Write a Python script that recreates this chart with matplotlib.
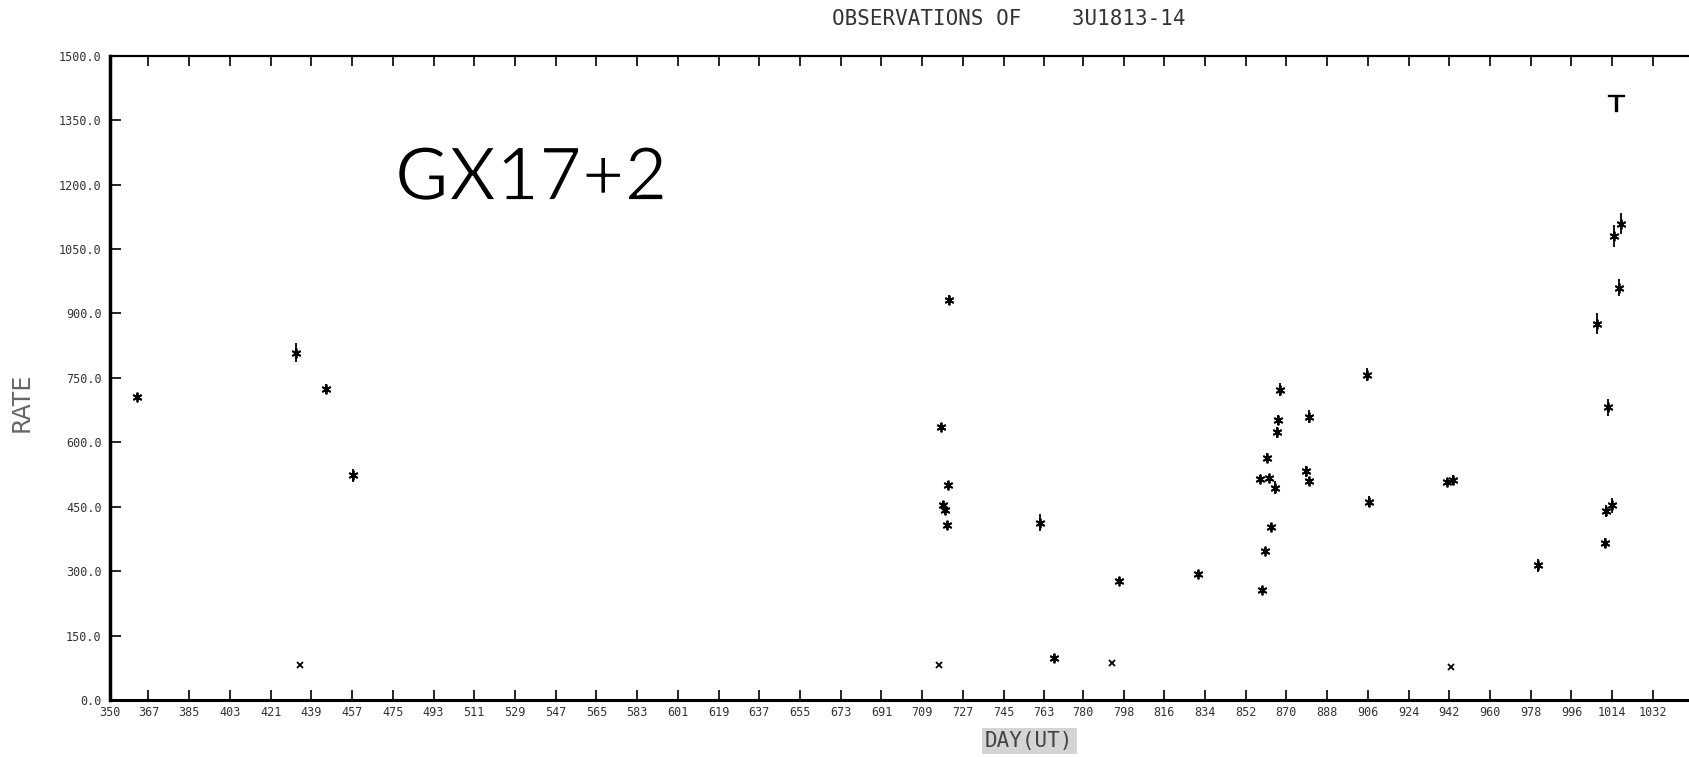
#! /usr/bin/env python
#
# Scanned light curve of GX17+2 (3U1813-14): count rate vs day (UT)
#

"""Recreate the 'OBSERVATIONS OF 3U1813-14' rate plot"""

# Installed packages
import matplotlib
matplotlib.use("Agg")
from matplotlib import pyplot as plt
from matplotlib import patheffects
import numpy as np

# Observations plotted with an asterisk and a vertical error bar
star_days = [362.1, 432.0, 445.5, 457.6,
             717.3, 718.3, 719.0, 720.0, 720.6, 720.9, 761.2, 767.3,
             796.0, 830.9, 858.3, 859.4, 860.4, 861.3, 862.3, 863.1,
             864.9, 866.0, 866.5, 867.0, 878.6, 879.9, 880.1,
             905.7, 906.4, 941.1, 943.8, 981.3, 1007.4, 1010.9, 1011.4,
             1012.2, 1013.8, 1014.7, 1016.8, 1017.7]
star_rates = [706, 808, 724, 523,
              636, 454, 442, 407, 501, 932, 413, 98,
              278, 294, 515, 256, 347, 564, 517, 403,
              494, 623, 652, 722, 532, 510, 660,
              757, 462, 508, 512, 314, 876, 366, 440,
              681, 453, 1080, 960, 1109]
star_errs = [8, 22, 12, 15,
             8, 10, 8, 10, 10, 12, 20, 8,
             8, 6, 8, 8, 8, 10, 6, 10,
             15, 12, 12, 15, 12, 10, 15,
             15, 12, 10, 12, 15, 25, 12, 15,
             20, 18, 25, 20, 25]

# Low points drawn with a plain cross
cross_days = [433.8, 716.3, 793.0, 942.8]
cross_rates = [82, 82, 86, 76]

# Point near the top drawn as a "T"
limit_days = [1015.6]
limit_rates = [1389]

# Axis labelling
tick_days = [350, 367, 385, 403, 421, 439, 457, 475, 493, 511, 529, 547,
             565, 583, 601, 619, 637, 655, 673, 691, 709, 727, 745, 763,
             780, 798, 816, 834, 852, 870, 888, 906, 924, 942, 960, 978,
             996, 1014, 1032]
rate_ticks = [0, 150, 300, 450, 600, 750, 900, 1050, 1200, 1350, 1500]

MONO = "DejaVu Sans Mono"
INK = "black"
LABEL_INK = "#333333"


def main():
    """Entry point"""
    fig = plt.figure(figsize=(16.9, 7.57), dpi=100)
    fig.patch.set_facecolor("white")
    ax = fig.add_axes([0.0651, 0.0753, 1.0 - 0.0651, 0.8511])

    # data: error bars first, then markers on top
    ax.errorbar(star_days, star_rates, yerr=star_errs, fmt="none",
                ecolor=INK, elinewidth=1.3, capsize=0)
    ax.plot(star_days, star_rates, linestyle="none", marker=(6, 2, 0),
            markersize=7, markeredgewidth=1.3, color=INK)
    ax.plot(cross_days, cross_rates, linestyle="none", marker="x",
            markersize=5, markeredgewidth=1.3, color=INK)
    ax.plot(limit_days, limit_rates, linestyle="none",
            marker=r"$\top$", markersize=12, color=INK)

    # axes limits and ticks
    ax.set_xlim(350, 1048.4)
    ax.set_ylim(0, 1500)
    ax.set_xticks(tick_days)
    ax.set_xticklabels([str(d) for d in tick_days], fontfamily=MONO,
                       fontsize=8.5, color=LABEL_INK)
    ax.set_yticks(rate_ticks)
    ax.set_yticklabels(["%.1f" % r for r in rate_ticks], fontfamily=MONO,
                       fontsize=8.5, color=LABEL_INK)
    ax.tick_params(axis="x", direction="in", length=7, width=1.2,
                   top=True, pad=4)
    ax.tick_params(axis="y", direction="in", length=8, width=1.2, pad=6)

    # frame: thick left/bottom, thinner top, right edge cut off in the scan
    ax.spines["right"].set_visible(False)
    ax.spines["left"].set_linewidth(2.5)
    ax.spines["bottom"].set_linewidth(2.2)
    ax.spines["top"].set_linewidth(1.6)

    # labels
    fig.text(0.013, 0.469, "RATE", rotation=90, ha="center", va="center",
             fontsize=17, color="#666666", fontfamily="DejaVu Sans")
    fig.text(0.609, 0.021, "DAY(UT)", ha="center", va="center",
             fontsize=15, color="#444444", fontfamily=MONO,
             bbox=dict(boxstyle="square,pad=0.15", facecolor="#d4d4d4",
                       edgecolor="none"))
    fig.text(0.597, 0.975, "OBSERVATIONS OF    3U1813-14", ha="center",
             va="center", fontsize=15, color=LABEL_INK, fontfamily=MONO)
    # note: white outline drawn over the glyphs thins the strokes a bit
    name = fig.text(0.2337, 0.7358, "GX17+2", ha="left", va="baseline",
                    fontsize=53, color="black", fontfamily="Lato")
    name.set_path_effects([patheffects.Normal(),
                           patheffects.Stroke(linewidth=1.3,
                                              foreground="white")])

    plt.savefig("out.png", dpi=100, facecolor="white")

#-------------------------------------------------------------------------------

if __name__ == "__main__":
    main()
